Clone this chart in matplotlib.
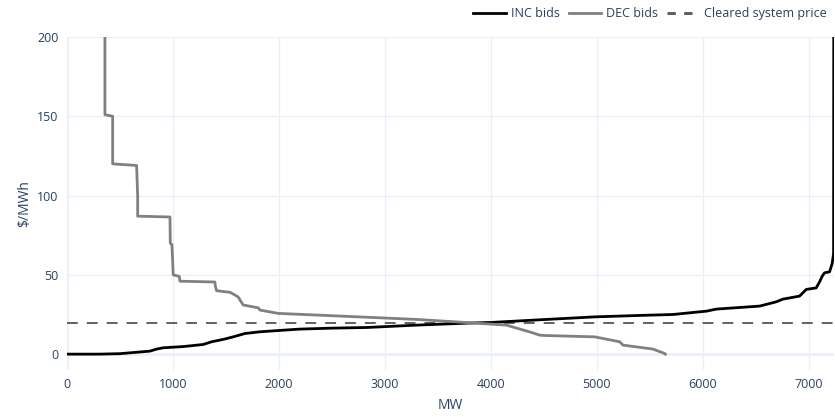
import matplotlib.pyplot as plt
from matplotlib.lines import Line2D

# INC supply curve (MW, $/MWh)
inc_mw = [0, 300, 500, 783, 846, 909, 1100, 1286, 1365, 1475, 1569, 1679, 1821,
          2041, 2198, 2500, 2827, 3299, 3800, 4006, 4500, 4981, 5400, 5720, 5972,
          6035, 6129, 6538, 6695, 6758, 6915, 6978, 7072, 7104, 7129, 7151, 7198,
          7223, 7236, 7240]
inc_price = [0, 0, 0.3, 1.9, 3.2, 4.0, 4.8, 6.1, 7.8, 9.3, 10.9, 13.0, 14.1,
             15.1, 15.8, 16.4, 16.8, 18.3, 19.6, 20.0, 21.8, 23.5, 24.4, 25.0, 26.7,
             27.1, 28.4, 30.3, 33.0, 34.7, 36.6, 40.8, 41.8, 45.6, 49.2, 51.3, 51.9,
             57.2, 63.5, 400]

# DEC demand curve (MW, $/MWh)
dec_mw = [358, 358, 431, 431, 657, 667, 667, 972, 975, 990, 993, 1003, 1060, 1066,
          1396, 1400, 1412, 1538, 1580, 1616, 1663, 1805, 1821, 1993, 2512, 3299,
          3802, 4148, 4368, 4462, 4494, 4981, 5217, 5248, 5531, 5642, 5648]
dec_price = [400, 151, 150, 120, 119, 100, 87, 86.5, 70, 69, 65, 50, 49, 46,
             45.5, 43, 40, 39, 37.5, 36, 31, 29.2, 27.8, 25.7, 24.2, 21.9,
             19.8, 18.3, 14.0, 12.0, 11.8, 10.9, 7.8, 5.7, 3.2, 0.4, 0]

cleared_price = 19.8

labels = ['INC bids', 'DEC bids', 'Cleared system price']

text_col = '#2a3f5f'
grid_col = '#ebf0f8'

plt.rcParams['font.family'] = ['Open Sans', 'DejaVu Sans']

fig = plt.figure(figsize=(8.35, 4.17), dpi=100)
ax = fig.add_axes([67 / 835, 47 / 417, 767 / 835, 333 / 417])

ax.plot(inc_mw, inc_price, color='black', lw=2, zorder=3)
ax.plot(dec_mw, dec_price, color='#808080', lw=2, zorder=3)
ax.axhline(cleared_price, color='#555555', lw=1.3, ls=(0, (6, 5)), zorder=2)

ax.set_xlim(0, 7240)
ax.set_ylim(-10, 200)
ax.set_xticks(range(0, 8000, 1000))
ax.set_yticks(range(0, 201, 50))

ax.grid(True, color=grid_col, lw=1)
ax.axhline(0, color=grid_col, lw=2, zorder=1)
ax.axvline(0, color=grid_col, lw=2, zorder=1)
ax.set_axisbelow(True)
for s in ax.spines.values():
    s.set_visible(False)
ax.tick_params(length=0, colors=text_col, labelsize=9, pad=6)

ax.set_xlabel('MW', color=text_col, fontsize=10, labelpad=5)
ax.set_ylabel('\\$/MWh', color=text_col, fontsize=10, labelpad=4)

handles = [
    Line2D([], [], color='black', lw=2),
    Line2D([], [], color='#808080', lw=2),
    Line2D([], [], color='#555555', lw=2, ls=(0, (3, 3))),
]
fig.legend(handles, labels, loc='upper right', bbox_to_anchor=(1.004, 1.01),
           ncol=3, frameon=False, fontsize=9, labelcolor=text_col,
           handlelength=2.6, handletextpad=0.4, columnspacing=0.7)

fig.savefig('out.png', dpi=100, facecolor='white')
